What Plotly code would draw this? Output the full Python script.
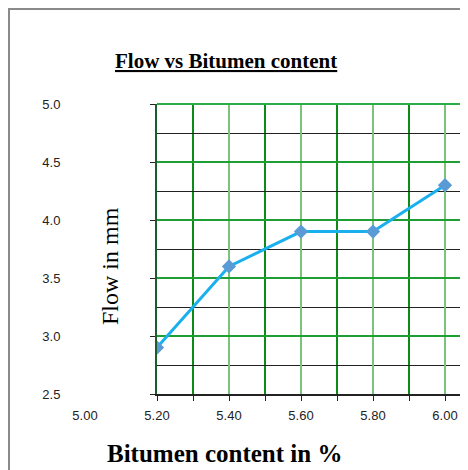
import plotly.graph_objects as go

# Data
bitumen = [5.20, 5.40, 5.60, 5.80, 6.00]
flow = [2.9, 3.6, 3.9, 3.9, 4.3]
x_tick_labels = [5.00, 5.20, 5.40, 5.60, 5.80, 6.00]
y_range = [2.5, 5.0]

W, H = 468, 470
OFF = 8  # page body offset
px2x = lambda p: (p - OFF) / W
px2y = lambda p: 1 - (p - OFF) / H

# reference screen positions
x_left, x_label_left, x_right = 157, 85, 468 + OFF
y_top, y_bot = 104, 394
scale = 360.0  # px per unit
xmax = 5.2 + (x_right - x_left) / scale
xmin_lab = 5.2 - (x_left - x_label_left) / scale

fig = go.Figure()

fig.add_trace(go.Scatter(
    x=bitumen, y=flow, mode="lines+markers",
    line=dict(color="#1ab0ee", width=3),
    marker=dict(symbol="diamond", size=11, color="#5b9bd5"),
    showlegend=False, hoverinfo="x+y",
))
# invisible helper trace for label axis
fig.add_trace(go.Scatter(
    x=[x_tick_labels[0]], y=[y_range[0]], xaxis="x2", yaxis="y2", mode="markers",
    marker=dict(opacity=0), showlegend=False, hoverinfo="skip",
))

ydom = [px2y(y_bot), px2y(y_top)]
fig.update_layout(
    width=W, height=H,
    margin=dict(l=0, r=0, t=0, b=0, autoexpand=False),
    paper_bgcolor="white",
    plot_bgcolor="rgba(0,0,0,0)",
    xaxis=dict(
        domain=[px2x(x_left), 1], range=[5.2, xmax],
        tick0=5.2, dtick=0.2,
        showgrid=True, gridcolor="#7cc47c", gridwidth=2,
        minor=dict(dtick=0.1, showgrid=True, gridcolor="#0e8a16", gridwidth=2,
                   ticks="outside", ticklen=5, tickcolor="#222"),
        ticks="outside", ticklen=5, tickcolor="#222",
        showticklabels=False,
        showline=True, linecolor="#222", linewidth=2,
        zeroline=False, automargin=False,
    ),
    xaxis2=dict(
        domain=[px2x(x_label_left), 1], range=[xmin_lab, xmax],
        anchor="y2", tickvals=x_tick_labels, tickformat=".2f",
        showgrid=False, zeroline=False, showline=False, ticks="",
        tickfont=dict(family="Liberation Sans, Arial", size=13, color="#222"),
        ticklabelstandoff=12, automargin=False,
    ),
    yaxis=dict(
        domain=ydom, range=y_range,
        tick0=2.5, dtick=0.5, tickformat=".1f",
        showgrid=True, gridcolor="#1f9e33", gridwidth=2,
        minor=dict(dtick=0.25, showgrid=True, gridcolor="#222", gridwidth=1),
        ticks="outside", ticklen=5, tickcolor="#222",
        showline=True, linecolor="#1b5e2b", linewidth=2,
        zeroline=False, automargin=False,
        tickfont=dict(family="Liberation Sans, Arial", size=13, color="#222"),
        ticklabelstandoff=87,
    ),
    yaxis2=dict(
        domain=ydom, range=y_range, anchor="x2",
        showgrid=False, zeroline=False, showline=False, ticks="",
        showticklabels=False, automargin=False,
    ),
    shapes=[
        dict(type="rect", xref="paper", yref="paper",
             x0=1 / W, x1=1.2, y0=1 - 1 / H, y1=-0.2,
             line=dict(color="#8a8a8a", width=2), fillcolor="rgba(0,0,0,0)",
             layer="below"),
        # top border of plot area
        dict(type="line", xref="paper", yref="paper",
             x0=px2x(x_left), x1=1, y0=ydom[1], y1=ydom[1],
             line=dict(color="#2aac48", width=2), layer="above"),
    ],
    annotations=[
        dict(text="<b><u>Flow vs Bitumen content</u></b>", xref="paper", yref="paper",
             x=px2x(226), y=px2y(61), xanchor="center", yanchor="middle", showarrow=False,
             font=dict(family="Liberation Serif, Times New Roman", size=21, color="black")),
        dict(text="Flow in mm", xref="paper", yref="paper",
             x=px2x(110), y=px2y(266), xanchor="center", yanchor="middle",
             showarrow=False, textangle=-90,
             font=dict(family="Liberation Serif, Times New Roman", size=24, color="black")),
        dict(text="<b>Bitumen content in %</b>", xref="paper", yref="paper",
             x=px2x(224), y=px2y(453), xanchor="center", yanchor="middle", showarrow=False,
             font=dict(family="Liberation Serif, Times New Roman", size=25, color="black")),
    ],
)

fig.write_html("out.html")
